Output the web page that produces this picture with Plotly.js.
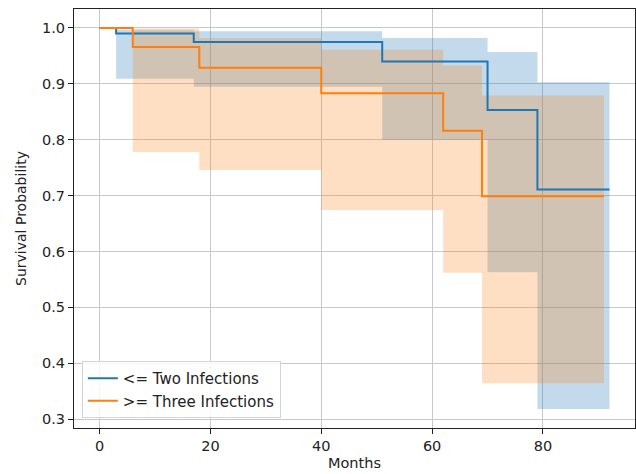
<!DOCTYPE html>
<html>
<head>
<meta charset="utf-8">
<script src="https://cdn.plot.ly/plotly-3.0.1.min.js"></script>
<style>html,body{margin:0;padding:0;background:#fff;}#chart{width:636px;height:474px;}</style>
</head>
<body>
<div id="chart"></div>
<script>
// <= Two Infections
const twoTimes = [0, 3, 17, 51, 70, 79, 92];
const twoSurv  = [1.0, 0.990, 0.975, 0.940, 0.853, 0.711, 0.711];
const twoUpper = [1.0, 0.997, 0.994, 0.982, 0.957, 0.903, 0.903];
const twoLower = [1.0, 0.909, 0.895, 0.800, 0.563, 0.318, 0.318];

// >= Three Infections
const threeTimes = [0, 6, 18, 40, 62, 69, 91];
const threeSurv  = [1.0, 0.966, 0.929, 0.883, 0.816, 0.699, 0.699];
const threeUpper = [1.0, 0.999, 0.982, 0.961, 0.933, 0.879, 0.879];
const threeLower = [1.0, 0.778, 0.746, 0.674, 0.562, 0.364, 0.364];

const seriesNames = ['<= Two Infections', '>= Three Infections'];
const xTicks = [0, 20, 40, 60, 80];

const BLUE = '#1f77b4', ORANGE = '#ff7f0e';

function band(x, lo, hi, fillColor) {
  return [
    {x: x, y: lo, type: 'scatter', mode: 'lines', line: {shape: 'hv', width: 0}, showlegend: false, hoverinfo: 'skip'},
    {x: x, y: hi, type: 'scatter', mode: 'lines', line: {shape: 'hv', width: 0}, fill: 'tonexty', fillcolor: fillColor, showlegend: false, hoverinfo: 'skip'}
  ];
}

const data = [
  ...band(twoTimes, twoLower, twoUpper, 'rgba(31,119,180,0.27)'),
  ...band(threeTimes, threeLower, threeUpper, 'rgba(255,127,14,0.25)'),
  {x: twoTimes, y: twoSurv, type: 'scatter', mode: 'lines', name: seriesNames[0], line: {shape: 'hv', color: BLUE, width: 2}},
  {x: threeTimes, y: threeSurv, type: 'scatter', mode: 'lines', name: seriesNames[1], line: {shape: 'hv', color: ORANGE, width: 2}}
];

const layout = {
  width: 636, height: 474,
  margin: {l: 74, r: 1, t: 9, b: 46},
  paper_bgcolor: '#fff', plot_bgcolor: '#fff',
  font: {family: 'DejaVu Sans, sans-serif', size: 14.5, color: '#222'},
  showlegend: true,
  legend: {
    x: 0.014, y: 0.024, xanchor: 'left', yanchor: 'bottom',
    traceorder: 'normal',
    bgcolor: 'rgba(255,255,255,0.85)', bordercolor: '#d4d4d4', borderwidth: 1,
    font: {size: 15, color: '#222'}, tracegroupgap: 0
  },
  xaxis: {
    range: [-4.6, 96.6], tickvals: xTicks, ticktext: xTicks.map(String),
    showgrid: true, gridcolor: '#c8c8c8', gridwidth: 1,
    zeroline: false, showline: true, linecolor: '#222', linewidth: 1, mirror: true,
    ticks: 'outside', ticklen: 5, tickcolor: '#222',
    title: {text: 'Months', font: {size: 14.5, color: '#222'}, standoff: 4}
  },
  yaxis: {
    range: [0.284, 1.034], dtick: 0.1, tick0: 0, tickformat: '.1f',
    showgrid: true, gridcolor: '#c8c8c8', gridwidth: 1,
    zeroline: false, showline: true, linecolor: '#222', linewidth: 1, mirror: true,
    ticks: 'outside', ticklen: 5, tickcolor: '#222',
    title: {text: 'Survival Probability', font: {size: 14, color: '#222'}, standoff: 12}
  }
};

Plotly.newPlot('chart', data, layout, {staticPlot: true, displayModeBar: false});
</script>
</body>
</html>
